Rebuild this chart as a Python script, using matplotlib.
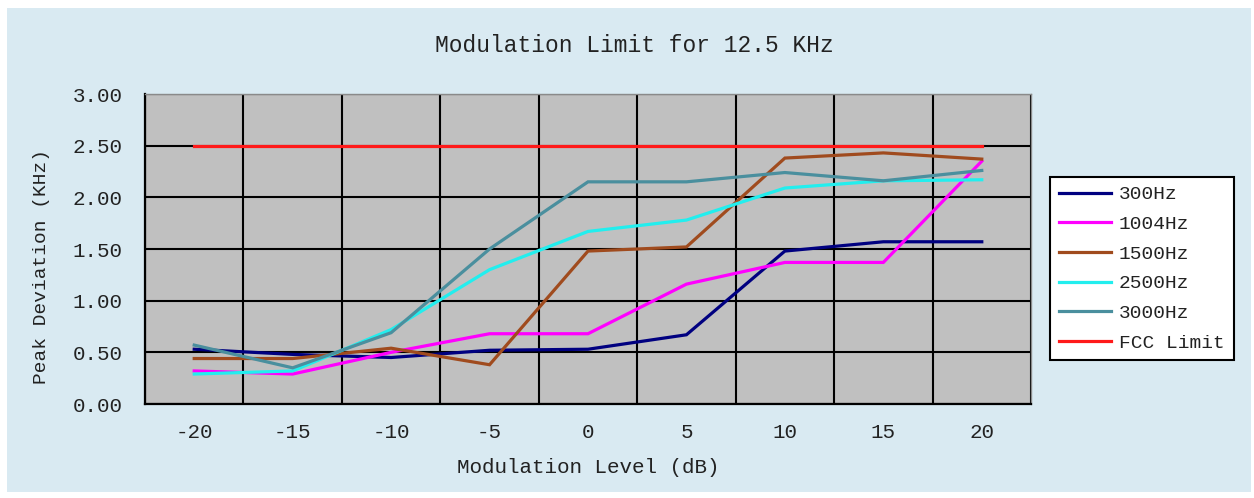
import matplotlib
matplotlib.use("Agg")
import matplotlib.pyplot as plt
from matplotlib.patches import Rectangle

# ---- data ----
levels = [-20, -15, -10, -5, 0, 5, 10, 15, 20]
series_names = ["300Hz", "1004Hz", "1500Hz", "2500Hz", "3000Hz", "FCC Limit"]
hz300 = [0.53, 0.48, 0.45, 0.52, 0.53, 0.67, 1.48, 1.57, 1.57]
hz1004 = [0.32, 0.29, 0.50, 0.68, 0.68, 1.16, 1.37, 1.37, 2.35]
hz1500 = [0.44, 0.44, 0.54, 0.38, 1.48, 1.52, 2.38, 2.43, 2.37]
hz2500 = [0.29, 0.32, 0.72, 1.30, 1.67, 1.78, 2.09, 2.16, 2.17]
hz3000 = [0.57, 0.35, 0.69, 1.50, 2.15, 2.15, 2.24, 2.16, 2.26]
fcc_limit = [2.50, 2.50, 2.50, 2.50, 2.50, 2.50, 2.50, 2.50, 2.50]
y_ticks = [0.0, 0.5, 1.0, 1.5, 2.0, 2.5, 3.0]

colors = ["#000080", "#FF00FF", "#A04B1E", "#22EEEE", "#4A8F9E", "#FF1A1A"]

FONT = "Liberation Mono"
W, H = 1254, 498
fig = plt.figure(figsize=(W / 100, H / 100), dpi=100)
fig.patch.set_facecolor("white")

# light-blue chart panel
fig.patches.append(Rectangle((7 / W, 6 / H), 1244 / W, 484 / H,
                             transform=fig.transFigure, facecolor="#D9EAF2",
                             edgecolor="none", zorder=-10))

ax = fig.add_axes([145 / W, (H - 404) / H, 886 / W, 310 / H])
ax.set_facecolor("#C0C0C0")

xs = [i + 0.5 for i in range(len(levels))]
all_series = [hz300, hz1004, hz1500, hz2500, hz3000, fcc_limit]
handles = []
for name, vals, c in zip(series_names, all_series, colors):
    h, = ax.plot(xs, vals, color=c, lw=2.3, label=name, zorder=3,
                 solid_joinstyle="miter")
    handles.append(h)

ax.set_xlim(0, len(levels))
ax.set_ylim(0, 3)
ax.set_xticks(xs)
ax.set_xticklabels([str(v) for v in levels])
ax.set_xticks(range(len(levels) + 1), minor=True)
ax.set_yticks(y_ticks)
ax.set_yticklabels(["%.2f" % v for v in y_ticks])
ax.tick_params(axis="both", which="both", length=0)
ax.tick_params(axis="x", pad=14)
ax.tick_params(axis="y", pad=16)
for lab in ax.get_xticklabels() + ax.get_yticklabels():
    lab.set_fontfamily(FONT)
    lab.set_fontsize(15)
    lab.set_color("#222222")

ax.grid(True, which="minor", axis="x", color="black", lw=1.5, zorder=1)
ax.grid(True, which="major", axis="y", color="black", lw=1.5, zorder=1)
ax.grid(False, which="major", axis="x")
ax.set_axisbelow(True)

for s in ["top", "right"]:
    ax.spines[s].set_color("#8A8A8A")
    ax.spines[s].set_linewidth(1.0)
for s in ["left", "bottom"]:
    ax.spines[s].set_color("black")
    ax.spines[s].set_linewidth(1.6)

fig.text(634 / W, 1 - 45 / H, "Modulation Limit for 12.5 KHz",
         ha="center", va="center", fontfamily=FONT, fontsize=16.5, color="#222222")
fig.text(588 / W, 1 - 467 / H, "Modulation Level (dB)",
         ha="center", va="center", fontfamily=FONT, fontsize=15, color="#222222")
fig.text(42 / W, 1 - 266 / H, "Peak Deviation (KHz)", rotation=90,
         ha="center", va="center", fontfamily=FONT, fontsize=14, color="#222222")

leg = fig.legend(handles=handles, loc="upper left",
                 bbox_to_anchor=(1050 / W, 1 - 177 / H), borderaxespad=0,
                 prop={"family": FONT, "size": 14}, frameon=True, fancybox=False,
                 framealpha=1, facecolor="white", edgecolor="black",
                 handlelength=2.7, handletextpad=0.4, labelspacing=0.62,
                 borderpad=0.45)
leg.get_frame().set_linewidth(1.5)
for t in leg.get_texts():
    t.set_color("#222222")

fig.savefig("out.png", dpi=100, facecolor=fig.get_facecolor())
